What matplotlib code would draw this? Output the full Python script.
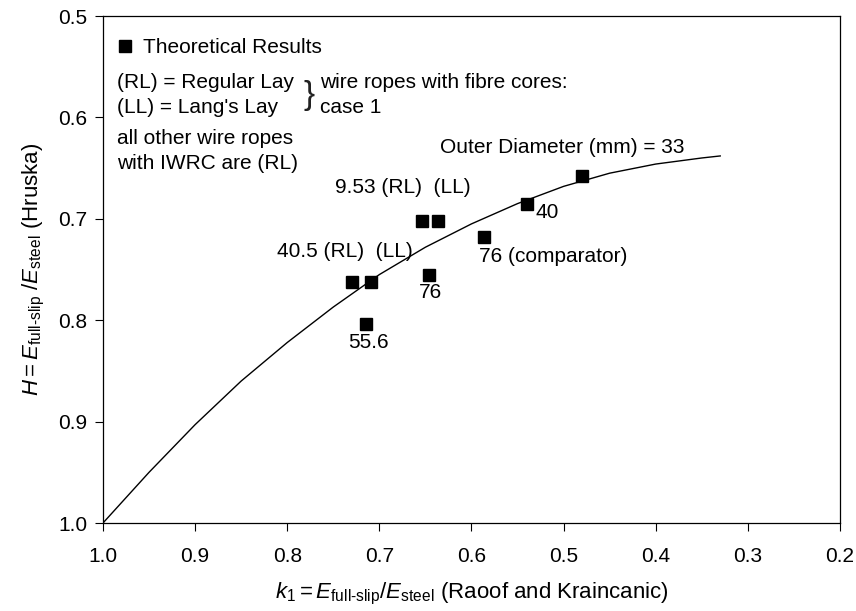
"""Hruska vs Raoof-Kraincanic full-slip modulus ratio."""

import matplotlib

matplotlib.use("Agg")
import matplotlib.pyplot as plt
from matplotlib.ticker import FormatStrFormatter

plt.rcParams["font.family"] = ["Liberation Sans", "DejaVu Sans"]
plt.rcParams["mathtext.fontset"] = "custom"
plt.rcParams["mathtext.rm"] = "Liberation Sans"
plt.rcParams["mathtext.it"] = "Liberation Sans:italic"
plt.rcParams["mathtext.bf"] = "Liberation Sans:bold"

# curve (k1, H)
curve_k = [1.00, 0.95, 0.90, 0.85, 0.80, 0.75, 0.70, 0.65, 0.60,
           0.55, 0.50, 0.45, 0.40, 0.35, 0.33]
curve_h = [1.000, 0.950, 0.903, 0.860, 0.822, 0.787, 0.755, 0.728, 0.705,
           0.685, 0.668, 0.655, 0.646, 0.640, 0.638]

# theoretical results (k1, H)
pts_k = [0.480, 0.540, 0.586, 0.654, 0.636, 0.730, 0.709, 0.646, 0.715]
pts_h = [0.658, 0.685, 0.718, 0.702, 0.702, 0.762, 0.762, 0.755, 0.804]

# point labels (text, k1, H, ha)
labels = [
    ("Outer Diameter (mm) = 33", 0.634, 0.630, "left"),
    ("9.53 (RL)  (LL)", 0.748, 0.669, "left"),
    ("40", 0.531, 0.694, "left"),
    ("76 (comparator)", 0.592, 0.737, "left"),
    ("40.5 (RL)  (LL)", 0.811, 0.732, "left"),
    ("76", 0.644, 0.773, "center"),
    ("55.6", 0.734, 0.8215, "left"),
]

FS = 15

fig = plt.figure(figsize=(8.56, 6.11), dpi=100)
ax = fig.add_axes([0.1203, 0.144, 0.8610, 0.8298])

ax.plot(curve_k, curve_h, color="black", lw=1.0)
ax.plot(pts_k, pts_h, ls="none", marker="s", ms=8.5, color="black",
        label="Theoretical Results")

for txt, kx, hy, ha in labels:
    ax.text(kx, hy, txt, ha=ha, va="center", fontsize=FS)

ax.set_xlim(1.0, 0.2)
ax.set_ylim(1.0, 0.5)
ax.set_xticks([1.0, 0.9, 0.8, 0.7, 0.6, 0.5, 0.4, 0.3, 0.2])
ax.set_yticks([0.5, 0.6, 0.7, 0.8, 0.9, 1.0])
ax.xaxis.set_major_formatter(FormatStrFormatter("%.1f"))
ax.yaxis.set_major_formatter(FormatStrFormatter("%.1f"))
ax.tick_params(direction="out", length=6, width=0.8, labelsize=15)
ax.tick_params(axis="x", pad=11)
ax.tick_params(axis="y", pad=5)
for s in ax.spines.values():
    s.set_linewidth(0.9)

ax.set_xlabel(r"$k_1 = E_{\text{full-slip}}/E_{\text{steel}}$ (Raoof and Kraincanic)",
              fontsize=16, labelpad=11)
ax.set_ylabel(r"$H = E_{\text{full-slip}}\ /E_{\text{steel}}$ (Hruska)",
              fontsize=16, labelpad=8)

ax.legend(loc="upper left", bbox_to_anchor=(0.0, 0.985), frameon=False,
          handlelength=0.7, handletextpad=0.5, fontsize=FS, markerscale=0.95,
          borderaxespad=0.3)

tr = ax.transAxes
ax.text(0.019, 0.868, "(RL) = Regular Lay", transform=tr, va="center", fontsize=FS)
ax.text(0.019, 0.8205, "(LL) = Lang's Lay", transform=tr, va="center", fontsize=FS)
ax.text(0.279, 0.844, "}", transform=tr, ha="center", va="center", fontsize=24,
        color="#222222")
ax.text(0.294, 0.868, "wire ropes with fibre cores:", transform=tr, va="center",
        fontsize=FS)
ax.text(0.294, 0.8205, "case 1", transform=tr, va="center", fontsize=FS)
ax.text(0.019, 0.759, "all other wire ropes", transform=tr, va="center", fontsize=FS)
ax.text(0.019, 0.710, "with IWRC are (RL)", transform=tr, va="center", fontsize=FS)

fig.savefig("out.png", dpi=100)
